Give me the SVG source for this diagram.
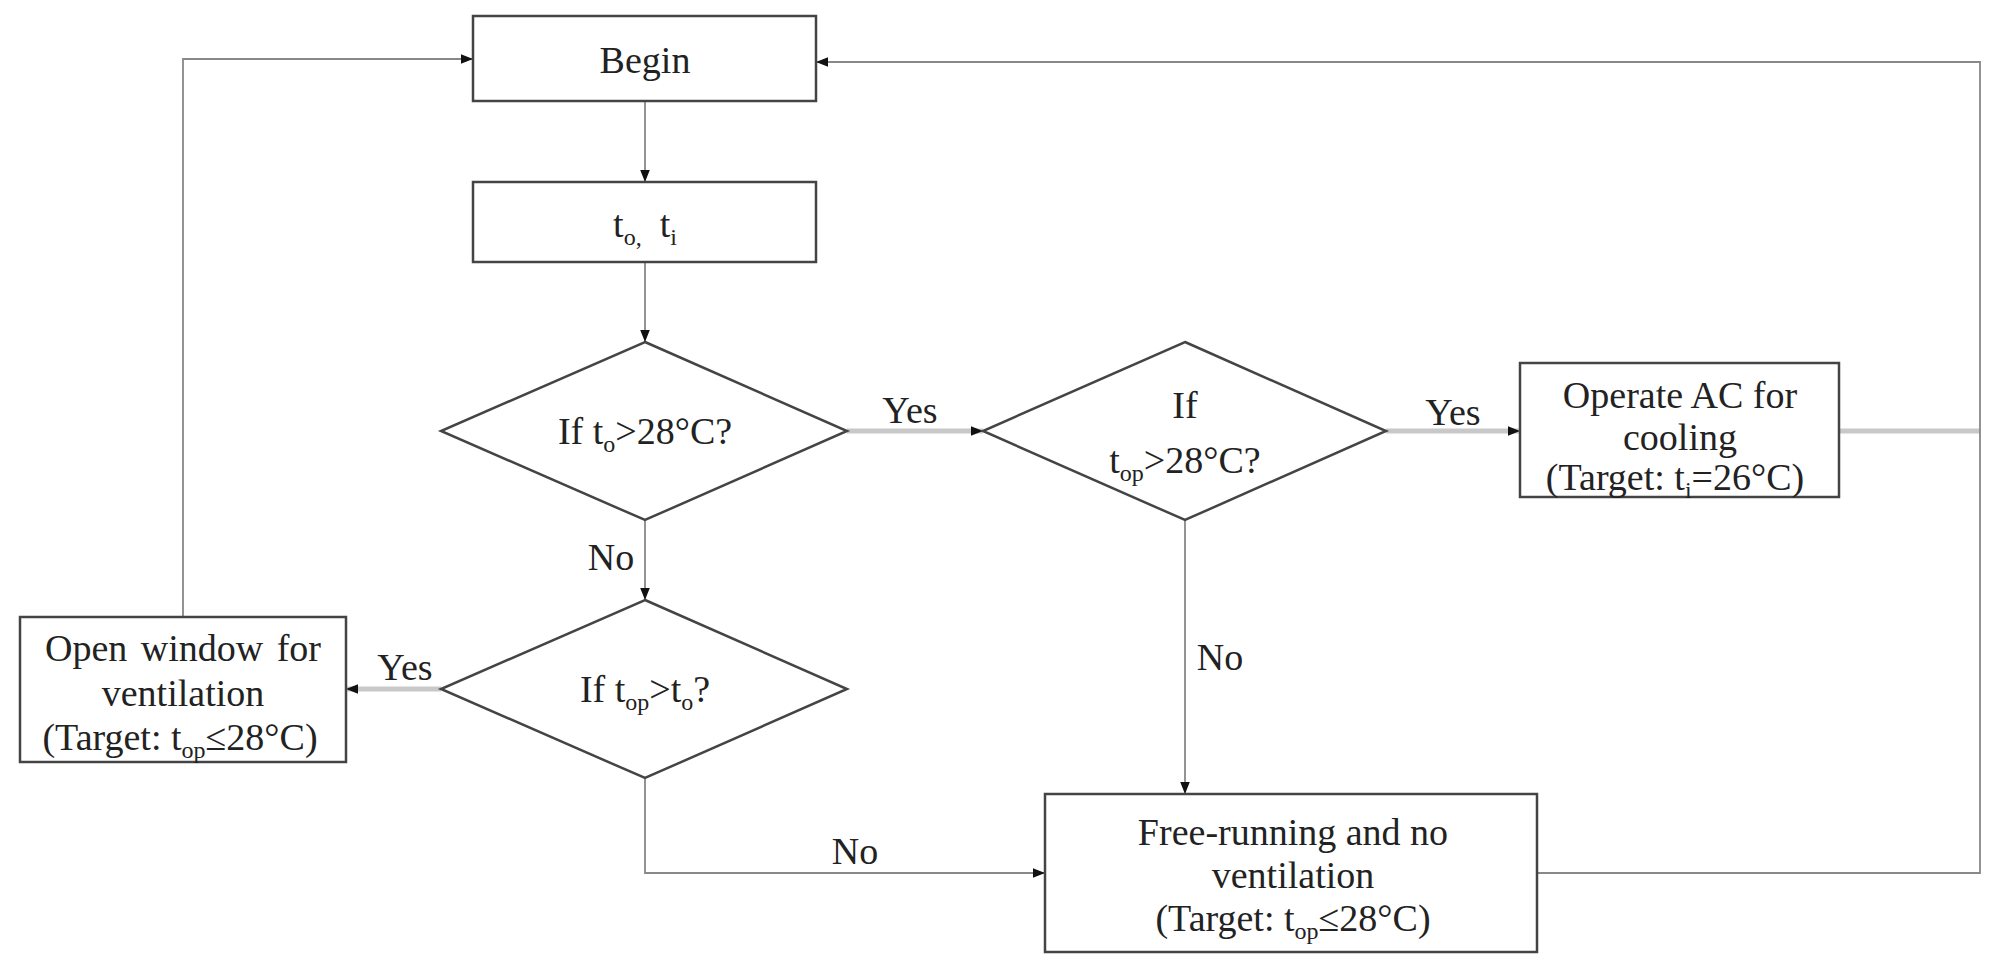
<svg xmlns="http://www.w3.org/2000/svg" width="2001" height="965" viewBox="0 0 2001 965">
<style>
.box{fill:#fff;stroke:#444;stroke-width:2.5}
.c{fill:none;stroke:#888;stroke-width:1.8}
.t{fill:none;stroke:#c8c8c8;stroke-width:5}
text{font-family:"Liberation Serif","Times New Roman",serif;font-size:38px;fill:#222;text-anchor:middle}
.s{font-size:24px}
</style>
<defs>
<marker id="a" viewBox="0 0 10 10" refX="10" refY="5" markerWidth="12" markerHeight="12" markerUnits="userSpaceOnUse" orient="auto"><path d="M0,1 L10,5 L0,9 z" fill="#111"/></marker>
</defs>
<g id="connectors">
<line class="c" x1="645" y1="101" x2="645" y2="182" marker-end="url(#a)"/>
<line class="c" x1="645" y1="262" x2="645" y2="342" marker-end="url(#a)"/>
<line class="t" x1="847" y1="431" x2="983" y2="431" marker-end="url(#a)"/>
<line class="t" x1="1386" y1="431" x2="1520" y2="431" marker-end="url(#a)"/>
<line class="t" x1="1839" y1="431" x2="1980" y2="431"/>
<polyline class="c" points="1537,873 1980,873 1980,62 816,62" marker-end="url(#a)"/>
<line class="c" x1="645" y1="520" x2="645" y2="600" marker-end="url(#a)"/>
<line class="t" x1="441" y1="689" x2="346" y2="689" marker-end="url(#a)"/>
<polyline class="c" points="183,617 183,59 473,59" marker-end="url(#a)"/>
<polyline class="c" points="645,778 645,873 1045,873" marker-end="url(#a)"/>
<line class="c" x1="1185" y1="520" x2="1185" y2="794" marker-end="url(#a)"/>
<text x="910" y="423">Yes</text>
<text x="1453" y="425">Yes</text>
<text x="611" y="570">No</text>
<text x="405" y="680">Yes</text>
<text x="855" y="864">No</text>
<text x="1220" y="670">No</text>
</g>
<g id="begin"><rect class="box" x="473" y="16" width="343" height="85"/><text x="645" y="73">Begin</text></g>
<g id="inputs"><rect class="box" x="473" y="182" width="343" height="80"/><text x="645" y="237">t<tspan class="s" dy="8">o,</tspan><tspan dy="-8" dx="18">t</tspan><tspan class="s" dy="8">i</tspan></text></g>
<g id="d1"><polygon class="box" points="645,342 847,431 645,520 441,431"/><text x="645" y="444">If t<tspan class="s" dy="8">o</tspan><tspan dy="-8">&gt;28°C?</tspan></text></g>
<g id="d2"><polygon class="box" points="1185,342 1386,431 1185,520 983,431"/><text x="1185" y="418">If</text><text x="1185" y="473">t<tspan class="s" dy="8">op</tspan><tspan dy="-8">&gt;28°C?</tspan></text></g>
<g id="ac"><rect class="box" x="1520" y="363" width="319" height="134"/><text x="1680" y="408">Operate AC for</text><text x="1680" y="450">cooling</text><text x="1675" y="490">(Target: t<tspan class="s" dy="8">i</tspan><tspan dy="-8">=26°C)</tspan></text></g>
<g id="d3"><polygon class="box" points="645,600 847,689 645,778 441,689"/><text x="645" y="702">If t<tspan class="s" dy="8">op</tspan><tspan dy="-8">&gt;t</tspan><tspan class="s" dy="8">o</tspan><tspan dy="-8">?</tspan></text></g>
<g id="window"><rect class="box" x="20" y="617" width="326" height="145"/><text x="183" y="661" word-spacing="4">Open window for</text><text x="183" y="706">ventilation</text><text x="180" y="750">(Target: t<tspan class="s" dy="8">op</tspan><tspan dy="-8">≤28°C)</tspan></text></g>
<g id="free"><rect class="box" x="1045" y="794" width="492" height="158"/><text x="1293" y="845">Free-running and no</text><text x="1293" y="888">ventilation</text><text x="1293" y="931">(Target: t<tspan class="s" dy="8">op</tspan><tspan dy="-8">≤28°C)</tspan></text></g>
</svg>
